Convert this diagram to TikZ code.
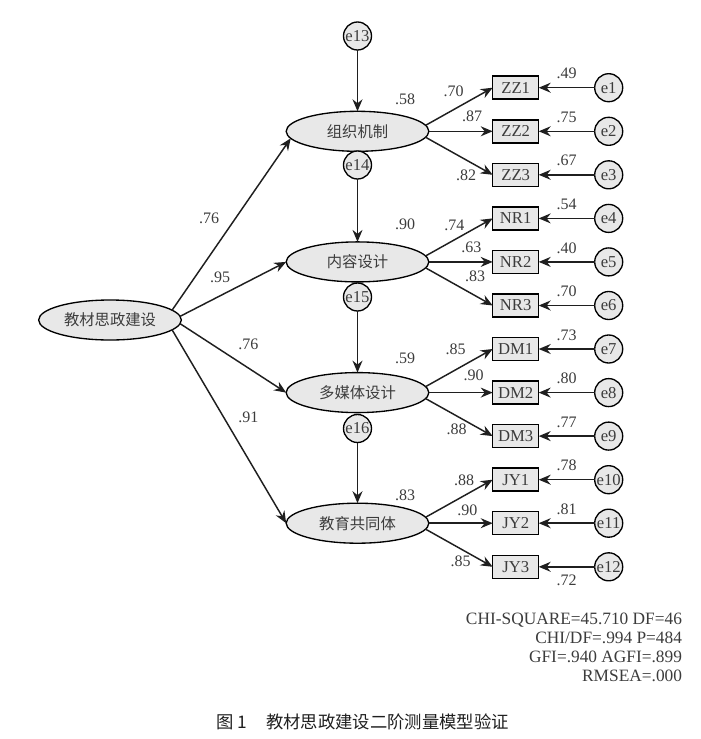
\documentclass[tikz,border=0pt]{standalone}
\usepackage{fontspec}
\setmainfont{Liberation Serif}
\newfontfamily\cjkfont{Noto Sans CJK SC}
\usepackage{xcolor}
\usepackage{tikz}
\usetikzlibrary{shapes, positioning, arrows.meta}

\definecolor{semgray}{RGB}{232,232,232}
\definecolor{semtext}{RGB}{60,60,60}

\begin{document}
\begin{tikzpicture}[x=0.75pt, y=-0.75pt, outer sep=0pt, node distance=42pt,
    font=\fontsize{12}{14.4}\selectfont, text=semtext,
    latent/.style={draw, ellipse, fill=semgray, line width=1pt, minimum width=107pt, minimum height=30pt, inner sep=0pt, font=\cjkfont\fontsize{11.5}{13}\selectfont},
    item/.style={draw, rectangle, fill=semgray, line width=1.1pt, minimum width=34.5pt, minimum height=17.25pt, inner sep=0pt, font=\fontsize{12.5}{14}\selectfont},
    err/.style={draw, circle, fill=semgray, line width=1pt, minimum size=21pt, inner sep=0pt, font=\fontsize{12.5}{14}\selectfont},
    arr/.style={-{Stealth[length=9pt, width=7.5pt, inset=3pt]}, line width=1.1pt, draw=black!88},
    coef/.style={inner sep=1pt}]
    \useasboundingbox (0,0) rectangle (700,739);

    % Zweite Ordnung
    \node[latent] (main) at (110,320) {教材思政建设};

    % Erste Ordnung
    \node[latent] (org) at (357.5,131.3) {组织机制};
    \node[latent] (cont) at (357.5,261.9) {内容设计};
    \node[latent] (media) at (357.5,392.6) {多媒体设计};
    \node[latent] (comm) at (357.5,523.2) {教育共同体};

    % Residuen
    \node[err] (e13) at (357.5,36) {e13};
    \node[err] (e14) at (357.5,165) {e14};
    \node[err] (e15) at (357.5,297) {e15};
    \node[err] (e16) at (357.5,428.5) {e16};

    % Indikatoren
    \node[item] (ZZ1) at (515.7,87.7) {ZZ1};
    \node[item] (ZZ2) at (515.7,131.3) {ZZ2};
    \node[item] (ZZ3) at (515.7,174.8) {ZZ3};
    \node[item] (NR1) at (515.7,218.4) {NR1};
    \node[item] (NR2) at (515.7,261.9) {NR2};
    \node[item] (NR3) at (515.7,305.5) {NR3};
    \node[item] (DM1) at (515.7,349) {DM1};
    \node[item] (DM2) at (515.7,392.6) {DM2};
    \node[item] (DM3) at (515.7,436.1) {DM3};
    \node[item] (JY1) at (515.7,479.7) {JY1};
    \node[item] (JY2) at (515.7,523.2) {JY2};
    \node[item] (JY3) at (515.7,566.8) {JY3};

    % Messfehler
    \node[err, right=of ZZ1] (e1) {e1};
    \node[err, right=of ZZ2] (e2) {e2};
    \node[err, right=of ZZ3] (e3) {e3};
    \node[err, right=of NR1] (e4) {e4};
    \node[err, right=of NR2] (e5) {e5};
    \node[err, right=of NR3] (e6) {e6};
    \node[err, right=of DM1] (e7) {e7};
    \node[err, right=of DM2] (e8) {e8};
    \node[err, right=of DM3] (e9) {e9};
    \node[err, right=of JY1] (e10) {e10};
    \node[err, right=of JY2] (e11) {e11};
    \node[err, right=of JY3] (e12) {e12};

    % Pfade
    \draw[arr] (main.9) -- (org.186);
    \draw[arr] (main.3) -- (cont.west);
    \draw[arr] (main.-3) -- (media.west);
    \draw[arr] (main.-9) -- (comm.west);
    \draw[arr] (e13) -- (org);
    \draw[arr] (e14) -- (cont);
    \draw[arr] (e15) -- (media);
    \draw[arr] (e16) -- (comm);

    \draw[arr] (org.5) -- (ZZ1.west);
    \draw[arr] (org.east) -- (ZZ2.west);
    \draw[arr] (org.-5) -- (ZZ3.west);
    \draw[arr] (cont.5) -- (NR1.west);
    \draw[arr] (cont.east) -- (NR2.west);
    \draw[arr] (cont.-5) -- (NR3.west);
    \draw[arr] (media.5) -- (DM1.west);
    \draw[arr] (media.east) -- (DM2.west);
    \draw[arr] (media.-5) -- (DM3.west);
    \draw[arr] (comm.5) -- (JY1.west);
    \draw[arr] (comm.east) -- (JY2.west);
    \draw[arr] (comm.-5) -- (JY3.west);

    \draw[arr] (e1) -- (ZZ1) node[coef, midway, above=5.5pt] {.49};
    \draw[arr] (e2) -- (ZZ2) node[coef, midway, above=5.5pt] {.75};
    \draw[arr] (e3) -- (ZZ3) node[coef, midway, above=5.5pt] {.67};
    \draw[arr] (e4) -- (NR1) node[coef, midway, above=5.5pt] {.54};
    \draw[arr] (e5) -- (NR2) node[coef, midway, above=5.5pt] {.40};
    \draw[arr] (e6) -- (NR3) node[coef, midway, above=5.5pt] {.70};
    \draw[arr] (e7) -- (DM1) node[coef, midway, above=5.5pt] {.73};
    \draw[arr] (e8) -- (DM2) node[coef, midway, above=5.5pt] {.80};
    \draw[arr] (e9) -- (DM3) node[coef, midway, above=5.5pt] {.77};
    \draw[arr] (e10) -- (JY1) node[coef, midway, above=5.5pt] {.78};
    \draw[arr] (e11) -- (JY2) node[coef, midway, above=5.5pt] {.81};
    \draw[arr] (e12) -- (JY3) node[coef, midway, below=5pt] {.72};

    % Koeffizienten
    \node[coef] (c1) at (209,218.3) {.76};
    \node[coef] (c2) at (220,277) {.95};
    \node[coef] (c3) at (248.3,344) {.76};
    \node[coef] (c4) at (248.3,417.7) {.91};
    \node[coef] (r1) at (405,99.3) {.58};
    \node[coef] (r2) at (405,224) {.90};
    \node[coef] (r3) at (405,358.3) {.59};
    \node[coef] (r4) at (405,495) {.83};
    \node[coef] (l1) at (453.7,91) {.70};
    \node[coef] (l2) at (472,116) {.87};
    \node[coef] (l3) at (466,175) {.82};
    \node[coef] (l4) at (454.3,225) {.74};
    \node[coef] (l5) at (471.3,247.3) {.63};
    \node[coef] (l6) at (475,276.7) {.83};
    \node[coef] (l7) at (455.7,349) {.85};
    \node[coef] (l8) at (473.7,375.7) {.90};
    \node[coef] (l9) at (456.7,429.3) {.88};
    \node[coef] (l10) at (464,480) {.88};
    \node[coef] (l11) at (467.3,510.7) {.90};
    \node[coef] (l12) at (460.7,561.7) {.85};

    % Kennwerte
    \node[anchor=north east, align=right, inner sep=0pt, font=\fontsize{13}{14.4}\selectfont] (fitinfo) at (682,612.5) {CHI-SQUARE=45.710 DF=46\\
    CHI/DF=.994 P=484\\
    GFI=.940 AGFI=.899\\
    RMSEA=.000};

    % Titel
    \node[text=black!88, font=\cjkfont\fontsize{13}{15}\selectfont] (caption) at (362.5,721.7) {图 1\hspace{1.1em}教材思政建设二阶测量模型验证};
\end{tikzpicture}
\end{document}
